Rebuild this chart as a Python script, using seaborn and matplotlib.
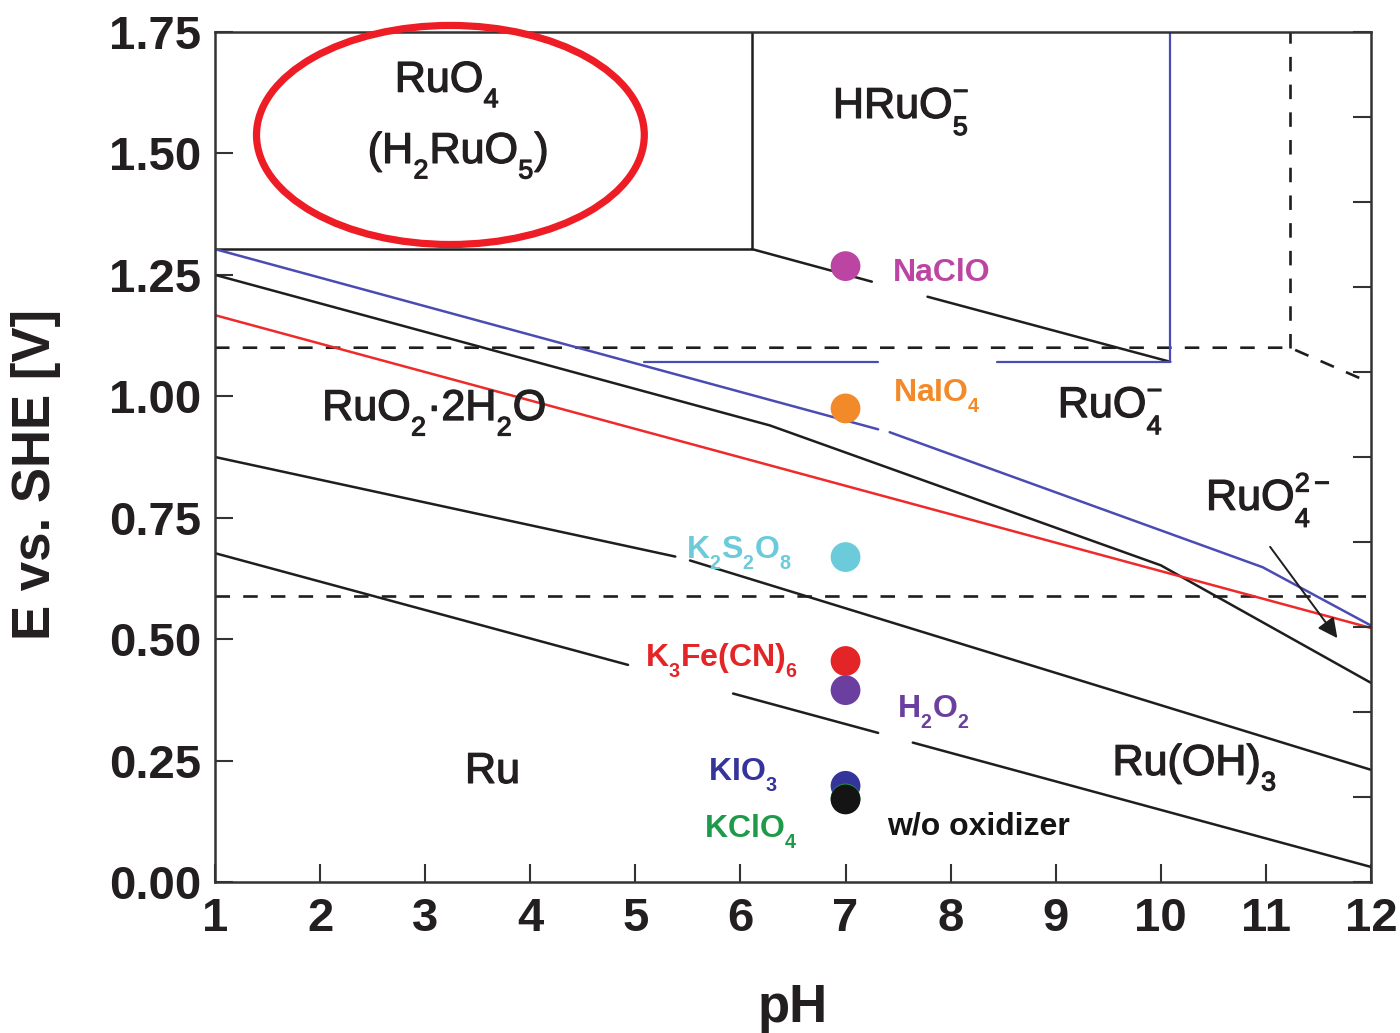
import numpy as np
import pandas as pd
import matplotlib
matplotlib.use("Agg")
import matplotlib.pyplot as plt
import matplotlib.patheffects as pe
import seaborn as sns
from matplotlib.patches import Ellipse

# ---------------------------------------------------------------------------
# Pourbaix-type boundaries (pH, E vs. SHE); NaN marks a break in a drawn line
# ---------------------------------------------------------------------------
ruo4_box_ph = [1.0, 6.11, 6.11]
ruo4_box_e = [1.303, 1.303, 1.75]

hruo5_ph = [6.11, 7.25, np.nan, 7.78, 10.09]
hruo5_e = [1.303, 1.236, np.nan, 1.205, 1.071]

blue_vert_ph = [10.09, 10.09]
blue_vert_e = [1.071, 1.75]

blue_horiz_ph = [5.08, 7.31, np.nan, 8.44, 10.09]
blue_horiz_e = [1.071, 1.071, np.nan, 1.071, 1.071]

blue_slope_ph = [1.0, 7.31, np.nan, 7.42, 10.97, 12.0]
blue_slope_e = [1.303, 0.932, np.nan, 0.926, 0.648, 0.528]

red_ph = [1.0, 12.0]
red_e = [1.167, 0.523]

black2_ph = [1.0, 6.28, 10.0, 12.0]
black2_e = [1.250, 0.940, 0.652, 0.410]

black3_ph = [1.0, 5.38, np.nan, 5.52, 12.0]
black3_e = [0.875, 0.670, np.nan, 0.662, 0.231]

black4_ph = [1.0, 4.93, np.nan, 5.93, 7.31, np.nan, 7.64, 12.0]
black4_e = [0.677, 0.447, np.nan, 0.388, 0.307, np.nan, 0.287, 0.031]

dash_top_ph = [1.0, 11.23, 11.95]
dash_top_e = [1.10, 1.10, 1.032]
dash_vert_ph = [11.23, 11.23]
dash_vert_e = [1.10, 1.75]
dash_low_ph = [1.0, 12.0]
dash_low_e = [0.589, 0.589]

# Oxidizers measured at pH 7
ox_names = ["NaClO", "NaIO4", "K2S2O8", "K3Fe(CN)6", "H2O2", "KIO3", "KClO4", "w/o oxidizer"]
ox_ph = [7, 7, 7, 7, 7, 7, 7, 7]
ox_e = [1.268, 0.975, 0.669, 0.455, 0.395, 0.198, 0.172, 0.170]
ox_colors = ["#BC45A3", "#F28A2A", "#6CCBDB", "#E42528", "#6B3FA0", "#34349A", "#1E9A4A", "#141414"]

x_ticks = list(range(1, 13))
y_ticks = [0.0, 0.25, 0.50, 0.75, 1.00, 1.25, 1.50, 1.75]

# ---------------------------------------------------------------------------
sns.set_theme(style="ticks")
plt.rcParams["font.family"] = ["Liberation Sans", "DejaVu Sans"]
plt.rcParams["mathtext.fontset"] = "custom"
plt.rcParams["mathtext.rm"] = "Liberation Sans"
plt.rcParams["mathtext.it"] = "Liberation Sans:italic"
plt.rcParams["mathtext.bf"] = "Liberation Sans:bold"

# chemical formulas: smaller, deeper subscripts
try:
    import matplotlib._mathtext as _mt
    _mt.SHRINK_FACTOR = 0.62
    _mt.FontConstantsBase.subdrop = 0.7
    _mt.FontConstantsBase.sub1 = 0.68
    _mt.FontConstantsBase.sub2 = 0.75
    _mt.FontConstantsBase.sup1 = 0.8
except Exception:
    pass

fig = plt.figure(figsize=(14, 10.33), dpi=100)
ax = fig.add_axes([215 / 1400, 1 - 882 / 1033, (1371 - 215) / 1400, (882 - 32) / 1033])


def segments(ph, e):
    """Split a NaN-separated polyline into a long table with a piece id."""
    rows, piece = [], 0
    for x, y in zip(ph, e):
        if np.isnan(x):
            piece += 1
            continue
        rows.append((x, y, piece))
    return pd.DataFrame(rows, columns=["pH", "E", "piece"])


def draw(ph, e, color, lw=1.8, ls="-", z=2):
    df = segments(ph, e)
    sns.lineplot(data=df, x="pH", y="E", units="piece", estimator=None, sort=False,
                 color=color, lw=lw, linestyle=ls, ax=ax, legend=False, zorder=z)


blk = "#1E1E1E"
blu = "#4B4BB4"
red = "#EE2A2A"
dash = (0, (5.5, 5.0))

draw(dash_top_ph, dash_top_e, blk, 1.9, dash)
draw(dash_vert_ph, dash_vert_e, blk, 1.9, dash)
draw(dash_low_ph, dash_low_e, blk, 1.9, dash)
draw(ruo4_box_ph, ruo4_box_e, blk)
draw(hruo5_ph, hruo5_e, blk)
draw(black2_ph, black2_e, blk)
draw(black3_ph, black3_e, blk)
draw(black4_ph, black4_e, blk)
draw(red_ph, red_e, red)
draw(blue_vert_ph, blue_vert_e, blu, 1.6)
draw(blue_horiz_ph, blue_horiz_e, blu, 1.6)
draw(blue_slope_ph, blue_slope_e, blu, 1.8)

pts = pd.DataFrame({"pH": ox_ph, "E": ox_e, "name": ox_names})
sns.scatterplot(data=pts, x="pH", y="E", hue="name",
                palette=dict(zip(ox_names, ox_colors)), s=460,
                edgecolor="none", linewidth=0, legend=False, ax=ax, zorder=5)

# arrow pointing to the narrow RuO4^2- field
ax.annotate("", xy=(11.68, 0.502), xytext=(11.04, 0.690),
            arrowprops=dict(arrowstyle="-|>", color=blk, lw=1.4, mutation_scale=30,
                            shrinkA=0, shrinkB=0), zorder=4)

# highlight around the RuO4 field
ax.add_patch(Ellipse((3.24, 1.538), width=3.69, height=0.451, fill=False,
                     edgecolor="#EE1C25", lw=5.2, clip_on=False, zorder=6))

# species fields
heavy = [pe.withStroke(linewidth=0.9, foreground="#231F20")]
region_kw = dict(fontsize=31, color="#231F20", va="baseline", path_effects=heavy)
ax.text(3.21, 1.627, r"$\mathregular{RuO_4}$", ha="center", **region_kw)
ax.text(3.31, 1.480, r"$\mathregular{(H_2RuO_5)}$", ha="center", **region_kw)
ax.text(6.88, 1.573, r"$\mathregular{HRuO_5^{-}}$", ha="left", **region_kw)
ax.text(9.02, 0.957, r"$\mathregular{RuO_4^{-}}$", ha="left", **region_kw)
ax.text(10.43, 0.766, r"$\mathregular{RuO_4^{2-}}$", ha="left", **region_kw)
ax.text(2.02, 0.951, r"$\mathregular{RuO_2{·}2H_2O}$", ha="left", **region_kw)
ax.text(3.64, 0.204, "Ru", ha="center", **region_kw)
ax.text(9.54, 0.220, r"$\mathregular{Ru(OH)_3}$", ha="left", **region_kw)

# oxidizer labels
ox_kw = dict(fontsize=23, fontweight="bold", va="baseline")
ax.text(7.45, 1.237, "NaClO", color=ox_colors[0], ha="left", **ox_kw)
ax.text(7.45, 0.990, r"$\mathregular{NaIO_4}$", color=ox_colors[1], ha="left", **ox_kw)
ax.text(6.49, 0.667, r"$\mathregular{K_2S_2O_8}$", color=ox_colors[2], ha="right", **ox_kw)
ax.text(6.54, 0.443, r"$\mathregular{K_3Fe(CN)_6}$", color=ox_colors[3], ha="right", **ox_kw)
ax.text(7.49, 0.338, r"$\mathregular{H_2O_2}$", color=ox_colors[4], ha="left", **ox_kw)
ax.text(6.35, 0.210, r"$\mathregular{KIO_3}$", color=ox_colors[5], ha="right", **ox_kw)
ax.text(6.54, 0.091, r"$\mathregular{KClO_4}$", color=ox_colors[6], ha="right", **ox_kw)
ax.text(7.40, 0.097, "w/o oxidizer", color=ox_colors[7], ha="left", **ox_kw)

# axes
ax.set_xlim(1, 12)
ax.set_ylim(0, 1.75)
ax.set_xticks(x_ticks)
ax.set_xticklabels([str(t) for t in x_ticks])
ax.set_yticks(y_ticks)
ax.set_yticklabels([f"{t:.2f}" for t in y_ticks])
ax.tick_params(axis="both", direction="in", length=13, width=1.5, color="#333333",
               labelsize=34, labelcolor="#231F20", top=False, right=False)
ax.tick_params(axis="x", pad=11)
ax.tick_params(axis="y", pad=10)
for lab in ax.get_xticklabels() + ax.get_yticklabels():
    lab.set_fontweight("bold")
for sp in ax.spines.values():
    sp.set_linewidth(1.8)
    sp.set_color("#333333")
    sp.set_visible(True)

ax.set_xlabel("pH", fontsize=38, fontweight="bold", color="#231F20", labelpad=30)
ax.set_ylabel("E vs. SHE [V]", fontsize=38, fontweight="bold", color="#231F20")
ax.yaxis.set_label_coords(-0.133, 0.48)

# unlabeled secondary scale on the right
ax2 = ax.twinx()
ax2.set_ylim(0, 10)
ax2.set_yticks(range(11))
ax2.tick_params(axis="y", direction="in", length=13, width=1.5, color="#333333",
                right=True, labelright=False, left=False)
ax2.grid(False)
for sp in ax2.spines.values():
    sp.set_visible(False)

fig.savefig("out.png", dpi=100, facecolor="white")
